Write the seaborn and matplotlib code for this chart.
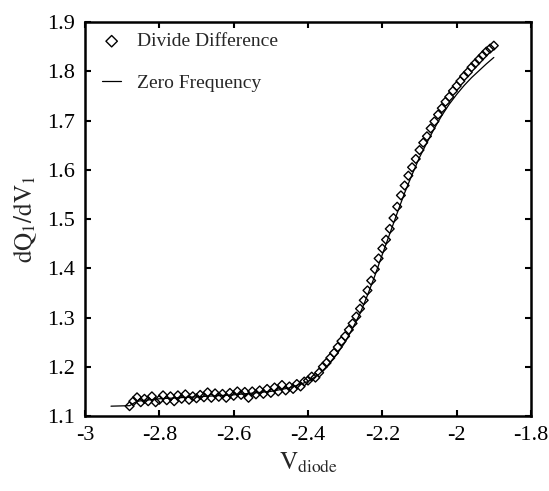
import matplotlib
matplotlib.use('Agg')
import matplotlib.pyplot as plt
import seaborn as sns
import pandas as pd

# Divide difference data
dd_v = [-2.88, -2.87, -2.86, -2.85, -2.84, -2.83, -2.82, -2.81, -2.80, -2.79,
        -2.78, -2.77, -2.76, -2.75, -2.74, -2.73, -2.72, -2.71, -2.70, -2.69,
        -2.68, -2.67, -2.66, -2.65, -2.64, -2.63, -2.62, -2.61, -2.60, -2.59,
        -2.58, -2.57, -2.56, -2.55, -2.54, -2.53, -2.52, -2.51, -2.50, -2.49,
        -2.48, -2.47, -2.46, -2.45, -2.44, -2.43, -2.42, -2.41, -2.40, -2.39,
        -2.38, -2.37, -2.36, -2.35, -2.34, -2.33, -2.32, -2.31, -2.30, -2.29,
        -2.28, -2.27, -2.26, -2.25, -2.24, -2.23, -2.22, -2.21, -2.20, -2.19,
        -2.18, -2.17, -2.16, -2.15, -2.14, -2.13, -2.12, -2.11, -2.10, -2.09,
        -2.08, -2.07, -2.06, -2.05, -2.04, -2.03, -2.02, -2.01, -2.00, -1.99,
        -1.98, -1.97, -1.96, -1.95, -1.94, -1.93, -1.92, -1.91, -1.90]
dd_q = [1.120, 1.130, 1.138, 1.128, 1.135, 1.130, 1.140, 1.128, 1.133, 1.142,
        1.132, 1.140, 1.130, 1.142, 1.135, 1.144, 1.133, 1.140, 1.136, 1.143,
        1.138, 1.148, 1.137, 1.146, 1.139, 1.145, 1.137, 1.147, 1.141, 1.150,
        1.143, 1.149, 1.137, 1.150, 1.144, 1.152, 1.145, 1.155, 1.147, 1.158,
        1.150, 1.163, 1.152, 1.160, 1.155, 1.165, 1.160, 1.170, 1.172, 1.180,
        1.178, 1.188, 1.200, 1.208, 1.218, 1.228, 1.240, 1.252, 1.262, 1.275,
        1.288, 1.302, 1.318, 1.335, 1.355, 1.375, 1.398, 1.420, 1.440, 1.458,
        1.480, 1.502, 1.525, 1.548, 1.568, 1.588, 1.605, 1.622, 1.640, 1.655,
        1.668, 1.684, 1.698, 1.712, 1.725, 1.738, 1.748, 1.760, 1.770, 1.780,
        1.790, 1.798, 1.808, 1.816, 1.824, 1.832, 1.840, 1.846, 1.852]

# Zero frequency curve
zf_v = [-2.93, -2.88, -2.86, -2.80, -2.70, -2.60, -2.50, -2.45, -2.40, -2.37,
        -2.35, -2.32, -2.30, -2.28, -2.26, -2.24, -2.22, -2.20, -2.18, -2.16,
        -2.14, -2.12, -2.10, -2.08, -2.06, -2.04, -2.02, -2.00, -1.98, -1.96,
        -1.94, -1.92, -1.90]
zf_q = [1.120, 1.121, 1.130, 1.135, 1.139, 1.143, 1.150, 1.157, 1.170, 1.185,
        1.200, 1.228, 1.250, 1.278, 1.308, 1.345, 1.385, 1.428, 1.470, 1.512,
        1.553, 1.590, 1.625, 1.655, 1.684, 1.710, 1.733, 1.753, 1.771, 1.787,
        1.801, 1.815, 1.828]

x_ticks = [-3, -2.8, -2.6, -2.4, -2.2, -2, -1.8]
x_tick_labels = ['-3', '-2.8', '-2.6', '-2.4', '-2.2', '-2', '-1.8']
y_ticks = [1.1, 1.2, 1.3, 1.4, 1.5, 1.6, 1.7, 1.8, 1.9]
y_tick_labels = ['1.1', '1.2', '1.3', '1.4', '1.5', '1.6', '1.7', '1.8', '1.9']

dd = pd.DataFrame({'v': dd_v, 'q': dd_q})
zf = pd.DataFrame({'v': zf_v, 'q': zf_q})

sns.set_style('ticks')
plt.rcParams['font.family'] = ['Liberation Serif', 'DejaVu Serif']
plt.rcParams['mathtext.fontset'] = 'stix'
plt.rcParams['axes.unicode_minus'] = False

fig = plt.figure(figsize=(5.49, 4.91), dpi=100)
ax = fig.add_axes([0.1548, 0.1527, 0.8124, 0.8025])

sns.scatterplot(data=dd, x='v', y='q', ax=ax, marker='D', s=20,
                facecolor='none', edgecolor='black', linewidth=1.0,
                label='Divide Difference', zorder=3)
sns.lineplot(data=zf, x='v', y='q', ax=ax, color='black', linewidth=0.9,
             label='Zero Frequency', sort=False, zorder=2)

ax.set_xlim(-3, -1.8)
ax.set_ylim(1.1, 1.9)
ax.set_xticks(x_ticks)
ax.set_xticklabels(x_tick_labels)
ax.set_yticks(y_ticks)
ax.set_yticklabels(y_tick_labels)
ax.tick_params(direction='in', length=4, width=1.5, labelsize=16, pad=7,
               top=True, right=True, colors='black')
for sp in ax.spines.values():
    sp.set_linewidth(1.8)
    sp.set_color('black')

ax.set_xlabel(r'$\mathrm{V_{diode}}$', fontsize=18, labelpad=4)
ax.set_ylabel(r'$\mathrm{dQ_1/dV_1}$', fontsize=18, labelpad=6)

leg = ax.legend(loc='upper left', bbox_to_anchor=(0.014, 1.0), frameon=False,
                fontsize=14, handlelength=1.0, handletextpad=0.8,
                labelspacing=1.25, borderaxespad=0.15, markerscale=1.3)

fig.savefig('out.png', dpi=100)
